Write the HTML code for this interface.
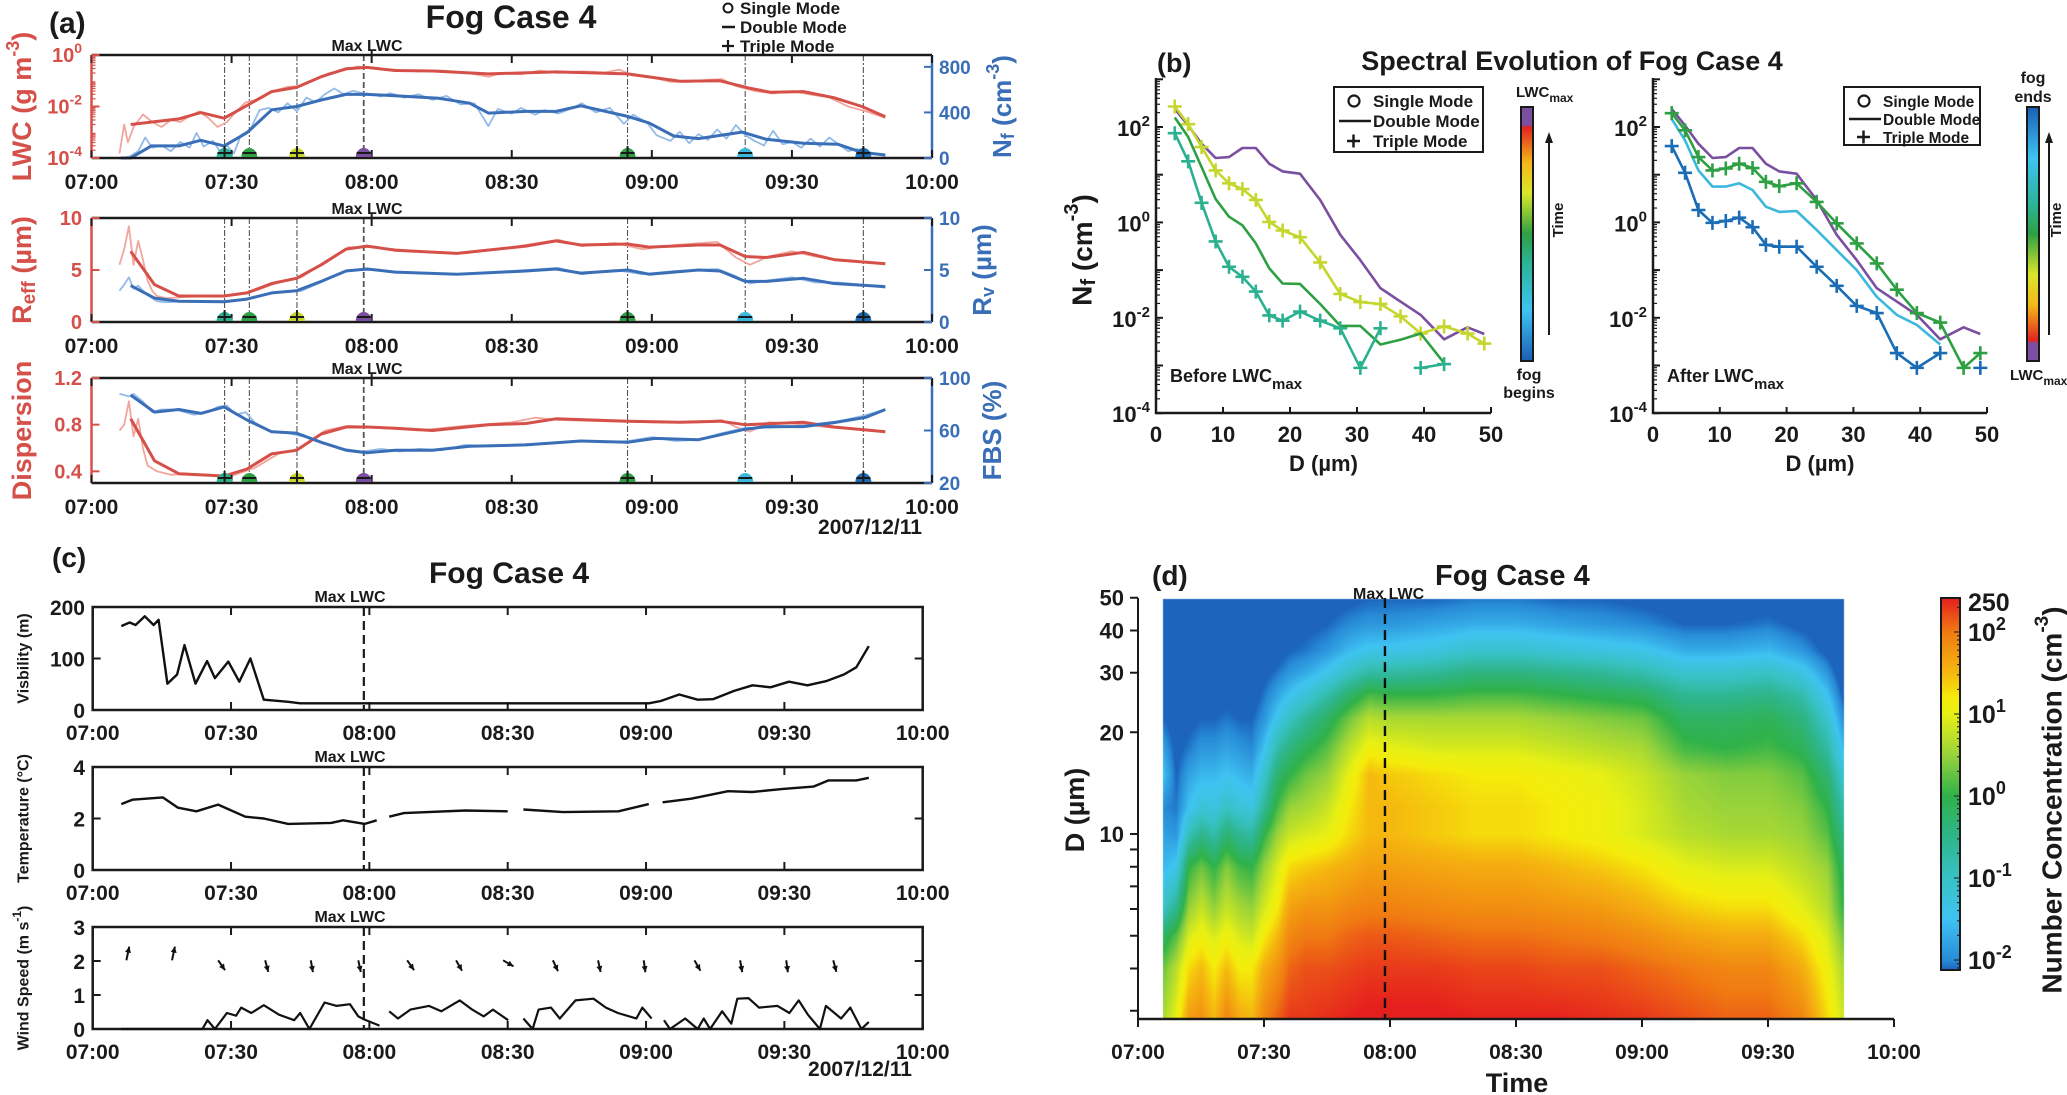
<!DOCTYPE html>
<html><head><meta charset="utf-8"><title>Fog Case 4</title>
<style>
html,body{margin:0;padding:0;background:#fff;}
#wrap{position:relative;width:2067px;height:1095px;overflow:hidden;background:#fff;}
#hm{position:absolute;left:0;top:0;z-index:0;}
#fig{position:absolute;left:0;top:0;z-index:1;}
text{font-family:"Liberation Sans",Arial,sans-serif;font-weight:bold;}
</style></head>
<body>
<div id="wrap">
<canvas id="hm" width="2067" height="1095"></canvas>
<svg id="fig" width="2067" height="1095" viewBox="0 0 2067 1095" xmlns="http://www.w3.org/2000/svg"></svg>
</div>
<script>
// ---------------- DATA ----------------
const aSmoothTimes=[8.4,18.7,23.4,28.4,33.3,38.6,43.9,49.2,54.5,59,65,73,85,99.5,114.8,126,134.6,140.6,145.3,152.5,159,165,170];
const lwcSmooth=[0.002,0.0033,0.0058,0.0035,0.011,0.038,0.055,0.144,0.29,0.33,0.25,0.24,0.185,0.22,0.185,0.096,0.1,0.053,0.036,0.038,0.022,0.01,0.004];
const nfTimes=[6.2,8.4,12.8,18.7,23.4,28.4,33.3,38.6,43.9,49.2,54.5,59,65,74.4,81,85,93,99.5,104.8,114.8,119.4,124.7,130,139.3,144.5,152.5,159.8,165,170];
const nfSmooth=[0,0,106,106,155,106,222,423,452,509,558,558,547,524,481,394,409,409,458,365,308,193,170,227,164,129,121,49,26];
const rTimes=[8.4,13.5,18.7,28.4,33.3,38.6,43.9,49.2,54.5,59,65,78.3,93,99.5,104.8,114.8,119.4,130,134.6,140,144.5,152.5,159,170];
const reffSmooth=[6.8,3.6,2.5,2.5,2.8,3.7,4.2,5.5,7.0,7.3,6.9,6.6,7.3,7.8,7.4,7.5,7.2,7.4,7.4,6.3,6.2,6.7,6.0,5.6];
const rvSmooth=[3.5,2.3,2.0,1.95,2.2,2.8,3.0,3.9,4.9,5.1,4.8,4.6,4.9,5.1,4.7,5.0,4.6,5.0,4.9,3.9,3.9,4.2,3.7,3.4];
const dispTimes=[8.4,13.5,18.7,28.4,33.3,38.6,43.9,49.2,54.5,59,65,73,85,93,99.5,114.8,126,134.6,140,152.5,159,170];
const dispSmooth=[0.85,0.49,0.38,0.36,0.42,0.55,0.58,0.72,0.78,0.78,0.77,0.75,0.80,0.81,0.85,0.83,0.82,0.83,0.80,0.82,0.78,0.74];
const fbsTimes=[8.4,13.5,18.7,23.4,28.4,33.3,38.6,43.9,49.2,54.5,59,65,73,81,93,104.8,114.8,120.7,130,140,144.5,152.5,159,165.8,170];
const fbsSmooth=[87,74,76,73,78,68,59,58,51,45,43,45,45,48,49,52,51,54,53,61,63,63,66,70,76];
const lwcRawTimes=[6,7,7.8,9,11,13,15,17,19,21,23,25,27,29,31,33,36,39,42,45,48,51,54,57,60,65,70,75,80,85,88,92,96,100,105,110,113,116,120,124,128,132,135,138,142,146,150,154,158,162,166,170];
const lwcRaw=[0.00015,0.002,0.0004,0.0016,0.0049,0.0025,0.0016,0.003,0.0025,0.0042,0.0064,0.0036,0.0016,0.0025,0.0064,0.0144,0.0196,0.04,0.058,0.0625,0.116,0.2,0.25,0.36,0.3,0.27,0.23,0.25,0.21,0.144,0.2,0.176,0.25,0.2,0.23,0.21,0.27,0.16,0.137,0.09,0.09,0.109,0.116,0.0625,0.04,0.032,0.04,0.029,0.0225,0.01,0.0064,0.0036];
const nfRawTimes=[6,8,10,11.5,13,15,17,19,21,22.5,24,26,27.5,29,30.5,32,34,36,38,40,42,44,46,48,50,52,54,56,58,60,62,64,67,70,73,76,79,82,85,87,90,92,95,97,100,103,105,108,111,114,116,119,121,124,126,128,130,132,134,136,138,140,142,144,146,148,150,152,154,156,158,160,162,164,166,168,170];
const nfRaw=[0,10,60,180,90,110,60,140,90,220,100,150,60,110,40,200,250,420,440,400,480,410,530,490,560,610,560,590,570,560,540,570,530,560,510,545,470,480,280,430,390,440,380,420,390,440,480,400,440,300,380,310,200,150,230,130,210,160,250,170,290,200,150,110,240,120,140,90,170,100,180,120,60,80,30,40,20];
const rRawTimes=[6,7,8,9,10,11,12,13,14,16,20,25,30,35,40,45,50,55,60,70,80,90,100,105,112,118,125,134,138,141,145,150,155,160,165,170];
const reffRaw=[5.5,7,9.2,5.5,7.8,6,4,3,2.5,2.3,2.4,2.5,2.6,3,3.8,4.3,5.8,7.2,7.2,6.8,6.6,7.2,7.9,7.3,7.6,7.0,7.4,7.7,6.2,5.5,6.3,6.8,6.3,5.9,5.8,5.6];
const rvRaw=[3,3.6,4.3,3.2,3.5,3.0,2.6,2.3,2.0,1.9,2.0,2.0,2.0,2.4,2.9,3.0,4.0,5.0,5.0,4.7,4.6,4.9,5.2,4.6,5.0,4.6,4.9,5.1,4.4,3.7,4.0,4.3,3.8,3.8,3.6,3.3];
const dRawTimes=[6,7,8,9,10,11,12,14,17,20,25,30,35,40,45,50,55,60,70,80,90,95,100,110,120,130,135,138,141,145,150,155,160,165,170];
const dispRaw=[0.75,0.8,1.0,0.7,0.85,0.6,0.45,0.4,0.37,0.38,0.37,0.36,0.43,0.55,0.6,0.75,0.79,0.78,0.75,0.79,0.82,0.86,0.84,0.83,0.82,0.82,0.84,0.78,0.74,0.82,0.81,0.79,0.77,0.76,0.74];
const fRawTimes=[6,8,9,11,13,15,18,20,22,25,27,29,31,33,35,38,42,46,50,54,58,62,66,70,75,80,85,90,95,100,105,110,115,120,125,130,135,140,145,150,155,160,165,170];
const fbsRaw=[88,86,88,82,74,76,76,74,72,74,78,79,72,74,66,60,58,55,50,46,44,46,44,46,45,49,48,49,50,51,52,51,52,55,52,53,58,62,62,63,65,67,71,76];
const evTimes=[28.5,33.8,44.0,58.3,114.8,140.0,165.3];
const evColors=['#2bb18f','#2ea043','#c8d62b','#7b4fa0','#2ea043','#3cb8dc','#1a6db5'];
const evModes=['+','-','+','-','+','-','+'];
const visTimes=[6.2,8,9.3,11.3,13.2,14.3,16.2,18.3,19.9,22.3,24.8,26.5,29.4,31.8,34.2,37.1,42.4,45,120.6,123.2,127.2,131.2,134.5,139.1,143.1,147,151,155,159,162.9,165.6,168.3];
const visVals=[163,170,165,182,165,175,51,69,126,51,95,62,94,55,100,20,16,13,13,17.5,30,20,21,37,48,44,55,48,56,69,83,124];
const tempTimes=[6.2,8.6,15.2,18.5,22.5,27.2,33.1,37.1,42.4,51.7,54.3,59,61.6,62.5,64.3,67.5,80.8,90,91.5,93.4,102,114,120.6,122,123.6,129.8,137.8,143,149.7,156.3,159.6,165.6,168.3];
const tempVals=[2.56,2.73,2.82,2.42,2.28,2.54,2.07,2.0,1.79,1.83,1.93,1.79,1.93,null,2.07,2.21,2.31,2.28,null,2.35,2.25,2.28,2.56,null,2.63,2.77,3.06,3.03,3.15,3.24,3.48,3.48,3.58];
const windTimes=[6.2,23.8,24.9,26.5,29.1,31.1,32.2,34.4,37.1,40.4,43.7,45,47,50.3,52.9,55.8,57.6,58.9,62.2,63,64.3,66.2,68.9,72.9,75.6,79.6,82.3,84.8,86.8,90.1,91.5,93.4,95.4,96.7,99.4,101.3,104.7,108.6,111.3,113.9,117.9,119.2,121.2,122.5,123.9,125.2,128.5,131.2,132.5,133.9,136.5,138.5,139.8,142.2,144.5,148.5,151.1,153.1,155.1,157.7,159,162.3,164.3,166.7,168.3];
const windVals=[0,0,0.26,0,0.47,0.39,0.63,0.47,0.70,0.42,0.26,0.47,0,0.78,0.68,0.73,0.37,0.28,0.10,null,0.52,0.31,0.57,0.68,0.52,0.84,0.57,0.37,0.57,0.26,null,0.31,0,0.57,0.63,0.31,0.84,0.89,0.63,0.47,0.31,0.63,0.31,null,0.26,0,0.31,0,0.31,0,0.52,0.16,0.89,0.91,0.63,0.68,0.47,0.84,0.42,0,0.68,0.31,0.63,0,0.21];
const arrowTimes=[7.3,17.2,27.2,37.4,47.3,57.6,68.2,78.8,89,99.8,109.6,119.5,130.5,140.4,150.4,160.6];
const arrowDirs=[12,12,145,165,170,168,145,150,120,155,168,172,150,170,172,165];
const diamB=[2.8,4.8,6.8,8.9,10.9,12.9,14.9,16.9,18.9,21.5,24.5,27.5,30.5,33.5,36.5,39.5,43,46.5,49];
const logNfMax=[2.38,2.03,1.65,1.35,1.37,1.56,1.56,1.23,1.07,1.02,0.47,-0.26,-0.79,-1.38,-1.66,-1.94,-2.45,-2.2,-2.34];
const logNfBefore3=[2.43,2.06,1.58,1.09,0.82,0.70,0.47,0.01,-0.17,-0.31,-0.84,-1.5,-1.67,-1.71,-1.97,-2.33,-2.18,-2.33,-2.54];
const logNfBefore2=[2.2,1.79,1.16,0.49,0.12,-0.06,-0.44,-0.96,-1.28,-1.29,-1.71,-2.17,-2.17,-2.56,-2.46,-2.33,-2.95,null,null];
const logNfBefore1=[1.87,1.28,0.41,-0.40,-0.93,-1.14,-1.45,-1.95,-2.06,-1.87,-2.06,-2.22,-3.05,-2.22,null,-3.05,-2.97,null,null];
const logNfAfter1=[2.29,1.93,1.37,1.09,1.13,1.23,1.14,0.85,0.76,0.82,0.43,-0.02,-0.44,-0.86,-1.41,-1.90,-2.10,-3.05,-2.74];
const logNfAfter2=[2.17,1.72,1.09,0.75,0.75,0.82,0.68,0.33,0.22,0.24,-0.16,-0.58,-1.0,-1.56,-1.94,-2.15,-2.56,null,null];
const logNfAfter3=[1.6,1.04,0.26,-0.01,0.03,0.10,-0.10,-0.47,-0.51,-0.51,-0.93,-1.33,-1.75,-1.9,-2.74,-3.05,-2.74,null,-3.05];
const hmTimes=[6,9,12,15,18,21,24,27,30,33,36,40,45,50,55,60,70,80,90,100,110,120,130,140,150,158,164,168];
const hmDiam=[2.9,4,5,6,8,10,12,15,18,22,26,30,35,42,50];
const hmLog=[
[0.6,0.3,-0.2,-1.0,-1.6,-1.8,-2.0,-1.5,-1.8,-2.2,-2.5,-2.4,-2.6,-2.7,-2.7],
[1.0,0.7,0.2,-0.5,-1.4,-1.9,-2.1,-2.2,-2.3,-2.4,-2.5,-2.6,-2.6,-2.7,-2.7],
[1.7,1.3,0.9,0.5,0.0,-0.9,-1.5,-1.8,-2.1,-2.3,-2.5,-2.6,-2.6,-2.7,-2.7],
[1.8,1.5,1.1,0.8,0.3,-0.5,-1.2,-1.6,-1.9,-2.2,-2.4,-2.5,-2.6,-2.6,-2.7],
[1.5,1.2,0.9,0.5,0.0,-0.8,-1.3,-1.6,-1.9,-2.2,-2.4,-2.5,-2.6,-2.6,-2.7],
[1.9,1.5,1.1,0.8,0.4,-0.3,-1.0,-1.5,-1.8,-2.1,-2.3,-2.5,-2.6,-2.6,-2.7],
[1.6,1.2,0.9,0.6,0.1,-0.6,-1.2,-1.6,-1.9,-2.2,-2.4,-2.5,-2.6,-2.6,-2.7],
[1.5,1.2,0.8,0.5,0.0,-0.7,-1.3,-1.7,-2.0,-2.2,-2.4,-2.5,-2.6,-2.6,-2.7],
[1.9,1.6,1.2,0.9,0.5,0.0,-0.6,-1.1,-1.5,-1.9,-2.1,-2.3,-2.5,-2.6,-2.7],
[2.1,1.8,1.5,1.2,0.9,0.5,0.1,-0.3,-0.8,-1.4,-1.8,-2.1,-2.4,-2.5,-2.6],
[2.3,2.1,1.9,1.7,1.3,0.8,0.5,0.0,-0.4,-1.0,-1.5,-1.9,-2.2,-2.4,-2.5],
[2.3,2.2,2.0,1.8,1.4,0.9,0.6,0.3,-0.1,-0.6,-1.2,-1.7,-2.1,-2.3,-2.4],
[2.35,2.2,2.0,1.8,1.5,1.0,0.8,0.5,0.2,-0.2,-0.8,-1.4,-1.9,-2.2,-2.4],
[2.4,2.25,2.1,1.9,1.6,1.3,1.2,1.0,0.7,0.3,-0.3,-1.0,-1.6,-2.0,-2.3],
[2.45,2.3,2.15,1.95,1.7,1.5,1.5,1.5,1.1,0.7,0.1,-0.7,-1.4,-1.9,-2.2],
[2.45,2.3,2.15,1.95,1.7,1.5,1.5,1.4,1.0,0.6,0.0,-0.7,-1.4,-1.9,-2.2],
[2.45,2.3,2.1,1.9,1.65,1.4,1.4,1.3,0.9,0.6,0.0,-0.6,-1.3,-1.8,-2.2],
[2.4,2.25,2.05,1.85,1.6,1.3,1.3,1.2,0.9,0.6,0.1,-0.4,-1.1,-1.7,-2.1],
[2.4,2.25,2.05,1.85,1.6,1.3,1.3,1.2,0.9,0.6,0.1,-0.4,-1.1,-1.7,-2.1],
[2.4,2.2,2.0,1.8,1.5,1.2,1.2,1.1,0.8,0.5,0.0,-0.5,-1.2,-1.8,-2.2],
[2.35,2.2,1.95,1.75,1.4,1.1,1.1,1.0,0.7,0.4,-0.1,-0.6,-1.3,-1.9,-2.2],
[2.3,2.1,1.85,1.6,1.25,0.9,0.9,0.8,0.6,0.3,-0.2,-0.8,-1.4,-2.0,-2.3],
[2.2,2.0,1.7,1.4,1.0,0.7,0.6,0.5,0.1,-0.2,-0.6,-1.1,-1.7,-2.2,-2.4],
[2.1,1.9,1.6,1.3,0.9,0.6,0.5,0.4,0.0,-0.2,-0.6,-1.1,-1.7,-2.2,-2.4],
[2.1,1.9,1.6,1.3,0.9,0.6,0.5,0.4,0.1,-0.1,-0.5,-1.0,-1.6,-2.1,-2.4],
[1.9,1.6,1.3,1.0,0.7,0.5,0.4,0.2,-0.1,-0.4,-0.8,-1.3,-1.9,-2.3,-2.5],
[1.3,1.1,0.9,0.7,0.5,0.2,0.0,-0.3,-0.7,-1.1,-1.5,-1.9,-2.3,-2.5,-2.6],
[0.8,0.6,0.3,0.0,-0.2,-0.5,-0.8,-1.2,-1.6,-2.0,-2.3,-2.5,-2.6,-2.7,-2.7]];
const timeTickLabels=['07:00','07:30','08:00','08:30','09:00','09:30','10:00'];

// ---------------- HELPERS ----------------
const NS='http://www.w3.org/2000/svg';
const svg=document.getElementById('fig');
function mk(tag,attrs,parent){const e=document.createElementNS(NS,tag);for(const k in attrs)e.setAttribute(k,attrs[k]);(parent||svg).appendChild(e);return e;}
function T(html,x,y,fs,anchor,color,rot){const e=mk('text',{x:x,y:y,'font-size':fs,'text-anchor':anchor||'middle',fill:color||'#1a1a1a'});if(rot)e.setAttribute('transform','rotate('+rot+' '+x+' '+y+')');e.innerHTML=html;return e;}
function pathD(xs,ys,xf,yf){let d='',pen=false;for(let i=0;i<xs.length;i++){const v=ys[i];if(v===null||v===undefined){pen=false;continue;}d+=(pen?'L':'M')+xf(xs[i]).toFixed(1)+' '+yf(v).toFixed(1);pen=true;}return d;}
const RED='#d6504a',RED_L='#f2a59c',BLUE='#3a6fb8',BLUE_L='#93bbe8';
const sup=(b,e,s)=>b+'<tspan dy="-'+Math.round(s*0.45)+'" font-size="'+Math.round(s*0.7)+'">'+e+'</tspan>';

// ---------------- PANEL (a) ----------------
const xa=m=>91.5+m/180*840.5;
const aPlots=[{t:55,b:158},{t:218,b:322},{t:378,b:483}];
const yLWC=v=>158-(Math.log10(v)+4)/4*103;
const yNf=v=>158-v/904*103;
const yReff=v=>322-v/10*104;
const yRv=v=>322-v/10*104;
const yDisp=v=>483-(v-0.3)/0.9*105;
const yFBS=v=>483-(v-20)/80*105;
let t;
t=T('(a)',49,33,30,'start');

t=T('Fog Case 4',511,28,32);

const legA=mk('g',{});

mk('circle',{cx:728,cy:8,r:4.5,fill:'none',stroke:'#1a1a1a','stroke-width':2},legA);
T('Single Mode',740,14,17,'start',null);
mk('line',{x1:722,x2:735,y1:27,y2:27,stroke:'#1a1a1a','stroke-width':2.5},legA);
T('Double Mode',740,33,17,'start',null);
mk('path',{d:'M722 46h12M728 40v12',stroke:'#1a1a1a','stroke-width':2.2},legA);
T('Triple Mode',740,52,17,'start',null);

function drawAPanel(i,leftTicks,leftFmt,yl,rightTicks,yr,leftLabel,rightLabel,series,minorLog){
  const p=aPlots[i];
  const g=mk('g',{});
  
  
  evTimes.forEach((m,k)=>{const ln=mk('line',{x1:xa(m),x2:xa(m),y1:p.t,y2:p.b,stroke:'#555','stroke-width':k===3?1.8:1.1,'stroke-dasharray':k===3?'6 3':'6 2 2 2'},g);
    });
  mk('line',{x1:xa(60),x2:xa(60),y1:p.t-4,y2:p.t,stroke:'#1a1a1a','stroke-width':2},g);
  series.forEach(s=>{const pth=mk('path',{d:pathD(s.x,s.y,xa,s.f),fill:'none',stroke:s.c,'stroke-width':s.w,'stroke-linejoin':'round'},g);
    });
  mk('line',{x1:xa(0),x2:xa(180),y1:p.t,y2:p.t,stroke:'#1a1a1a','stroke-width':2.5},g);
  mk('line',{x1:xa(0),x2:xa(180),y1:p.b,y2:p.b,stroke:'#1a1a1a','stroke-width':2.5},g);
  mk('line',{x1:xa(0),x2:xa(0),y1:p.t,y2:p.b,stroke:RED,'stroke-width':2.5},g);
  mk('line',{x1:xa(180),x2:xa(180),y1:p.t,y2:p.b,stroke:BLUE,'stroke-width':2.5},g);
  for(let k=0;k<=6;k++){const x=xa(k*30);
    mk('line',{x1:x,x2:x,y1:p.b,y2:p.b-8,stroke:'#1a1a1a','stroke-width':2},g);
    mk('line',{x1:x,x2:x,y1:p.t,y2:p.t+8,stroke:'#1a1a1a','stroke-width':2},g);
    const tl=T(timeTickLabels[k],x,p.b+31,21,'middle','#1a1a1a');
    }
  leftTicks.forEach(v=>{const y=yl(v);mk('line',{x1:xa(0),x2:xa(0)+8,y1:y,y2:y,stroke:RED,'stroke-width':2},g);
    const tl=T(leftFmt(v),82,y+7,20,'end',RED);});
  if(minorLog){for(let e=-4;e<0;e++){for(let m=2;m<10;m++){const y=yl(m*Math.pow(10,e));mk('line',{x1:xa(0),x2:xa(0)+4,y1:y,y2:y,stroke:RED,'stroke-width':1.2},g);}}}
  rightTicks.forEach(v=>{const y=yr(v);mk('line',{x1:xa(180),x2:xa(180)-8,y1:y,y2:y,stroke:BLUE,'stroke-width':2},g);
    const tl=T(String(v),939,y+7,19,'start',BLUE);});
  const ll=T(leftLabel,22,(p.t+p.b)/2,27,'middle',RED,-90);ll.setAttribute('dominant-baseline','central');
  
  const rl=T(rightLabel.s,rightLabel.x,(p.t+p.b)/2,26,'middle',BLUE,-90);rl.setAttribute('dominant-baseline','central');
  
  const ml=T('Max LWC',367,p.t-4,16,'middle','#1a1a1a');
  evTimes.forEach((m,k)=>{const x=xa(m),y=p.b-1;
    const mg=mk('g',{},g);
    
    
    mk('path',{d:'M'+(x-8)+' '+y+'A8 9 0 0 1 '+(x+8)+' '+y+'Z',fill:evColors[k]},mg);
    mk('line',{x1:x-7,x2:x+7,y1:y-4,y2:y-4,stroke:'#1a1a1a','stroke-width':2},mg);
    if(evModes[k]==='+')mk('line',{x1:x,x2:x,y1:y-11,y2:y+2,stroke:'#1a1a1a','stroke-width':2},mg);});
}
drawAPanel(0,[1e-4,1e-2,1],v=>sup('10',String(Math.round(Math.log10(v))),20),yLWC,[0,400,800],yNf,
  'LWC (g m<tspan dy="-9" font-size="18">-3</tspan><tspan dy="9">)</tspan>',{s:'N<tspan dy="6" font-size="18">f</tspan><tspan dy="-6"> (cm</tspan><tspan dy="-9" font-size="18">-3</tspan><tspan dy="9">)</tspan>',x:1002},
  [{x:lwcRawTimes,y:lwcRaw,f:yLWC,c:RED_L,w:1.8,n:'lwc-raw-line'},{x:nfRawTimes,y:nfRaw,f:yNf,c:BLUE_L,w:1.8,n:'nf-raw-line'},
   {x:aSmoothTimes,y:lwcSmooth,f:yLWC,c:RED,w:3,n:'lwc-smooth-line'},{x:nfTimes,y:nfSmooth,f:yNf,c:BLUE,w:3,n:'nf-smooth-line'}],true);
drawAPanel(1,[0,5,10],v=>String(v),yReff,[0,5,10],yRv,'R<tspan dy="7" font-size="19">eff</tspan><tspan dy="-7"> (µm)</tspan>',
  {s:'R<tspan dy="6" font-size="18">v</tspan><tspan dy="-6"> (µm)</tspan>',x:982},
  [{x:rRawTimes,y:reffRaw,f:yReff,c:RED_L,w:1.8,n:'reff-raw-line'},{x:rRawTimes,y:rvRaw,f:yRv,c:BLUE_L,w:1.8,n:'rv-raw-line'},
   {x:rTimes,y:reffSmooth,f:yReff,c:RED,w:3,n:'reff-smooth-line'},{x:rTimes,y:rvSmooth,f:yRv,c:BLUE,w:3,n:'rv-smooth-line'}],false);
drawAPanel(2,[0.4,0.8,1.2],v=>v.toFixed(1),yDisp,[20,60,100],yFBS,'Dispersion',{s:'FBS (%)',x:992},
  [{x:dRawTimes,y:dispRaw,f:yDisp,c:RED_L,w:1.8,n:'dispersion-raw-line'},{x:fRawTimes,y:fbsRaw,f:yFBS,c:BLUE_L,w:1.8,n:'fbs-raw-line'},
   {x:dispTimes,y:dispSmooth,f:yDisp,c:RED,w:3,n:'dispersion-smooth-line'},{x:fbsTimes,y:fbsSmooth,f:yFBS,c:BLUE,w:3,n:'fbs-smooth-line'}],false);
t=T('2007/12/11',870,534,21,'middle');


// ---------------- PANEL (c) ----------------
const xc=m=>92.7+m/180*830;
const cPlots=[{t:607,b:710},{t:767,b:870},{t:927,b:1029}];
const yVis=v=>710-v/200*103;
const yTemp=v=>870-v/4*103;
const yWind=v=>1029-v/3*102;
t=T('(c)',52,567,28,'start');

t=T('Fog Case 4',509,583,30);

function drawCPanel(p,ticks,yf,label,lfs,name){
  const g=mk('g',{});
  
  
  mk('rect',{x:xc(0),y:p.t,width:xc(180)-xc(0),height:p.b-p.t,fill:'none',stroke:'#1a1a1a','stroke-width':2.5},g);
  for(let k=0;k<=6;k++){const x=xc(k*30);
    mk('line',{x1:x,x2:x,y1:p.b,y2:p.b-8,stroke:'#1a1a1a','stroke-width':2},g);
    mk('line',{x1:x,x2:x,y1:p.t,y2:p.t+8,stroke:'#1a1a1a','stroke-width':2},g);
    const tl=T(timeTickLabels[k],x,p.b+30,21);}
  ticks.forEach(v=>{const y=yf(v);
    mk('line',{x1:xc(0),x2:xc(0)+8,y1:y,y2:y,stroke:'#1a1a1a','stroke-width':2},g);
    mk('line',{x1:xc(180),x2:xc(180)-8,y1:y,y2:y,stroke:'#1a1a1a','stroke-width':2},g);
    const tl=T(String(v),85,y+8,21,'end');});
  const dl=mk('line',{x1:xc(58.8),x2:xc(58.8),y1:p.t,y2:p.b,stroke:'#1a1a1a','stroke-width':2.2,'stroke-dasharray':'9 5'},g);
  
  const ml=T('Max LWC',350,p.t-5,16);
  const yl=T(label,24,(p.t+p.b)/2,lfs,'middle','#1a1a1a',-90);yl.setAttribute('dominant-baseline','central');
  
  return g;
}
drawCPanel(cPlots[0],[0,100,200],yVis,'Visbility (m)',16,'visibility-subplot');
drawCPanel(cPlots[1],[0,2,4],yTemp,'Temperature (°C)',16,'temperature-subplot');
drawCPanel(cPlots[2],[0,1,2,3],yWind,'Wind Speed (m s<tspan dy="-7" font-size="12">-1</tspan><tspan dy="7">)</tspan>',16,'wind-subplot');
let ln;
ln=mk('path',{d:pathD(visTimes,visVals,xc,yVis),fill:'none',stroke:'#111','stroke-width':2.4,'stroke-linejoin':'round'});

ln=mk('path',{d:pathD(tempTimes,tempVals,xc,yTemp),fill:'none',stroke:'#111','stroke-width':2.4,'stroke-linejoin':'round'});

ln=mk('path',{d:pathD(windTimes,windVals,xc,yWind),fill:'none',stroke:'#111','stroke-width':2.2,'stroke-linejoin':'round'});

arrowTimes.forEach((m,k)=>{const x0=xc(m),y0=yWind(2.02);const a=arrowDirs[k]*Math.PI/180;const L=k<2?14:12;
  const x1=x0+Math.sin(a)*L,y1=y0-Math.cos(a)*L;
  const ag=mk('g',{});
  
  
  mk('line',{x1:x0,y1:y0,x2:x1,y2:y1,stroke:'#111','stroke-width':2},ag);
  const hx=Math.sin(a),hy=-Math.cos(a);
  const p1=[x1-hx*6+hy*3,y1-hy*6-hx*3],p2=[x1-hx*6-hy*3,y1-hy*6+hx*3];
  mk('path',{d:'M'+x1+' '+y1+'L'+p1[0]+' '+p1[1]+'L'+p2[0]+' '+p2[1]+'Z',fill:'#111'},ag);});
t=T('2007/12/11',860,1076,21);


// ---------------- PANEL (b) ----------------
const yb=l=>127-(l-2)*47.7;
const xbL=d=>1156+d*6.7, xbR=d=>1653+d*6.68;
t=T('(b)',1157,72,27,'start');

t=T('Spectral Evolution of Fog Case 4',1572,70,27);

function drawBPanel(xf,x0,series,name,noteX,note){
  const g=mk('g',{});
  
  
  mk('path',{d:'M'+x0+' 78V413H'+xf(50),fill:'none',stroke:'#1a1a1a','stroke-width':2.5},g);
  for(let d=0;d<=50;d+=10){const x=xf(d);mk('line',{x1:x,x2:x,y1:413,y2:407,stroke:'#1a1a1a','stroke-width':2},g);
    const tl=T(String(d),x,442,22);}
  for(let e=-4;e<=2;e++){for(let m=1;m<10;m++){const y=yb(e+Math.log10(m));if(y<78)continue;
    mk('line',{x1:x0,x2:x0+(m===1?7:4),y1:y,y2:y,stroke:'#1a1a1a','stroke-width':m===1?2:1.2},g);}}
  mk('line',{x1:x0,x2:x0+7,y1:yb(3),y2:yb(3),stroke:'#1a1a1a','stroke-width':2},g);
  [-4,-2,0,2].forEach(e=>{const tl=T(sup('10',String(e),22),x0-6,yb(e)+9,22,'end');});
  series.forEach(s=>{const pth=mk('path',{d:pathD(diamB,s.y,xf,yb),fill:'none',stroke:s.c,'stroke-width':2.6,'stroke-linejoin':'round'},g);
    
    if(s.plus){diamB.forEach((d,i)=>{const v=s.y[i];if(v===null)return;const x=xf(d),y=yb(v);
      const pm=mk('path',{d:'M'+(x-7)+' '+y+'h14M'+x+' '+(y-7)+'v14',stroke:s.c,'stroke-width':2.6},g);
      });}});
  const nt=T(note,noteX,382,18,'start');
  const xl=T('D (µm)',xf(25),471,22);
  return g;
}
drawBPanel(xbL,1156,[{y:logNfMax,c:'#7b4fa0',n:'lwc-max-spectrum'},{y:logNfBefore3,c:'#c5d62e',plus:true,n:'spectrum-0744'},
  {y:logNfBefore2,c:'#2ea043',n:'spectrum-0734'},{y:logNfBefore1,c:'#2bb18f',plus:true,n:'spectrum-0728'}],'spectra-before-max',1170,
  'Before LWC<tspan dy="7" font-size="15">max</tspan>');
drawBPanel(xbR,1653,[{y:logNfMax,c:'#7b4fa0',n:'lwc-max-spectrum'},{y:logNfAfter2,c:'#3cb8dc',n:'spectrum-0920'},
  {y:logNfAfter1,c:'#2ea043',plus:true,n:'spectrum-0855'},{y:logNfAfter3,c:'#1a6db5',plus:true,n:'spectrum-0945'}],'spectra-after-max',1667,
  'After LWC<tspan dy="7" font-size="15">max</tspan>');
t=T('N<tspan dy="7" font-size="20">f</tspan><tspan dy="-7"> (cm</tspan><tspan dy="-10" font-size="20">-3</tspan><tspan dy="10">)</tspan>',1082,250,28,'middle','#1a1a1a',-90);
t.setAttribute('dominant-baseline','central');

function legendB(x,y,w,h,tx,fs,step,name){
  const g=mk('g',{});
  
  
  mk('rect',{x:x,y:y,width:w,height:h,fill:'#fff',stroke:'#1a1a1a','stroke-width':2},g);
  mk('circle',{cx:tx-19,cy:y+14,r:5.5,fill:'none',stroke:'#1a1a1a','stroke-width':2.2},g);
  mk('line',{x1:tx-34,x2:tx-2,y1:y+14+step,y2:y+14+step,stroke:'#1a1a1a','stroke-width':2.5},g);
  mk('path',{d:'M'+(tx-26)+' '+(y+14+2*step)+'h13M'+(tx-19.5)+' '+(y+7.5+2*step)+'v13',stroke:'#1a1a1a','stroke-width':2.5},g);
  ['Single Mode','Double Mode','Triple Mode'].forEach((s,i)=>{const tl=T(s,tx,y+20+i*step,fs,'start');});
}
legendB(1334,87,149,65,1373,17,20,'panel-b-legend-left');
legendB(1844,87,136,58,1883,15.5,18,'panel-b-legend-right');
const defs=mk('defs',{});
const g1=mk('linearGradient',{id:'cbL',x1:0,y1:1,x2:0,y2:0},defs);
[['0','#1a5fb4'],['0.2','#3fc3f2'],['0.38','#2bb59a'],['0.5','#2ea043'],['0.66','#d9e62a'],['0.78','#f5b81a'],['0.92','#e3231f'],['0.93','#7b4fa0'],['1','#7b4fa0']].forEach(s=>mk('stop',{offset:s[0],'stop-color':s[1]},g1));
const g2=mk('linearGradient',{id:'cbR',x1:0,y1:0,x2:0,y2:1},defs);
[['0','#1a5fb4'],['0.2','#3fc3f2'],['0.38','#2bb59a'],['0.5','#2ea043'],['0.66','#d9e62a'],['0.78','#f5b81a'],['0.92','#e3231f'],['0.93','#7b4fa0'],['1','#7b4fa0']].forEach(s=>mk('stop',{offset:s[0],'stop-color':s[1]},g2));
let cb=mk('rect',{x:1521,y:107,width:12,height:254,fill:'url(#cbL)',stroke:'#1a1a1a','stroke-width':2});

cb=mk('rect',{x:2027,y:107,width:12,height:254,fill:'url(#cbR)',stroke:'#1a1a1a','stroke-width':2});

[[1549],[2049]].forEach(a=>{const ag=mk('g',{});
  mk('line',{x1:a[0],x2:a[0],y1:335,y2:138,stroke:'#1a1a1a','stroke-width':2},ag);
  mk('path',{d:'M'+(a[0]-4)+' 143L'+a[0]+' 132L'+(a[0]+4)+' 143Z',fill:'#1a1a1a'},ag);});
t=T('LWC<tspan dy="5" font-size="12">max</tspan>',1516,97,15,'start');
t=T('Time',1563,220,15,'middle','#1a1a1a',-90);
t=T('fog',1529,380,16);
t=T('begins',1529,398,16);
t=T('fog',2033,83,16);
t=T('ends',2033,102,16);
t=T('LWC<tspan dy="5" font-size="12">max</tspan>',2010,380,15,'start');
t=T('Time',2061,220,15,'middle','#1a1a1a',-90);

// ---------------- PANEL (d) ----------------
const xd=m=>1138+m*4.2;
const yd=D=>834-338*Math.log10(D/10);
const cStops=[[-2.2,[28,100,188]],[-2.0,[40,140,215]],[-1.5,[63,195,242]],[-1.0,[56,194,197]],[-0.5,[46,181,138]],[0.0,[47,178,74]],[0.5,[153,211,58]],[1.0,[232,240,20]],[1.2,[245,236,10]],[1.5,[245,184,15]],[2.0,[240,122,18]],[2.43,[229,30,30]]];
function cmap(l){if(l<=cStops[0][0])return cStops[0][1];for(let i=1;i<cStops.length;i++){if(l<=cStops[i][0]){const a=cStops[i-1],b=cStops[i],f=(l-a[0])/(b[0]-a[0]);return a[1].map((c,k)=>Math.round(c+(b[1][k]-c)*f));}}return cStops[cStops.length-1][1];}
function interp(arr,v){if(v<=arr[0])return[0,0];for(let i=1;i<arr.length;i++){if(v<=arr[i])return[i-1,(v-arr[i-1])/(arr[i]-arr[i-1])];}return[arr.length-2,1];}
(function(){
  const cv=document.getElementById('hm'),ctx=cv.getContext('2d');
  const x0=Math.round(xd(hmTimes[0])),x1=Math.round(xd(hmTimes[hmTimes.length-1]));
  const y0=Math.round(yd(49.5)),y1=1019;
  const img=ctx.createImageData(x1-x0,y1-y0);
  const logD=hmDiam.map(d=>Math.log10(d));
  for(let py=0;py<y1-y0;py++){
    const D=10*Math.pow(10,(834-(y0+py))/338);const [j,fj]=interp(logD,Math.log10(D));
    for(let px=0;px<x1-x0;px++){
      const m=(x0+px-1138)/4.2;const [i,fi]=interp(hmTimes,m);
      const v=(1-fi)*((1-fj)*hmLog[i][j]+fj*hmLog[i][j+1])+fi*((1-fj)*hmLog[i+1][j]+fj*hmLog[i+1][j+1]);
      const c=cmap(v);const o=4*(py*(x1-x0)+px);
      img.data[o]=c[0];img.data[o+1]=c[1];img.data[o+2]=c[2];img.data[o+3]=255;}}
  ctx.putImageData(img,x0,y0);
})();
const dg=mk('g',{});


mk('line',{x1:1138,x2:1138,y1:598,y2:1019,stroke:'#1a1a1a','stroke-width':2},dg);
mk('line',{x1:1138,x2:xd(180),y1:1019,y2:1019,stroke:'#1a1a1a','stroke-width':2.5},dg);
for(let k=0;k<=6;k++){const x=xd(k*30);mk('line',{x1:x,x2:x,y1:1019,y2:1027,stroke:'#1a1a1a','stroke-width':2},dg);
  t=T(timeTickLabels[k],x,1059,21);}
[3,4,5,6,7,8,9,10,20,30,40,50].forEach(D=>{const y=yd(D);mk('line',{x1:1138,x2:1130,y1:y,y2:y,stroke:'#1a1a1a','stroke-width':2},dg);
  if([10,20,30,40,50].includes(D)){t=T(String(D),1124,y+8,22,'end');}});
let dl=mk('line',{x1:xd(58.8),x2:xd(58.8),y1:598,y2:1019,stroke:'#111','stroke-width':2.4,'stroke-dasharray':'10 6'});

t=T('Max LWC',1353,599,16,'start');
t=T('(d)',1152,585,28,'start');
t=T('Fog Case 4',1435,585,29,'start');
t=T('Time',1517,1092,27);
t=T('D (µm)',1075,810,27,'middle','#1a1a1a',-90);t.setAttribute('dominant-baseline','central');
const ycb=l=>960-(l+2)*82;
const g3=mk('linearGradient',{id:'cbD',x1:0,y1:1,x2:0,y2:0},defs);
cStops.forEach(s=>{const off=(970-ycb(s[0]))/(970-598);mk('stop',{offset:Math.max(0,Math.min(1,off)).toFixed(3),'stop-color':'rgb('+s[1].join(',')+')'},g3);});
cb=mk('rect',{x:1941,y:598,width:19,height:372,fill:'url(#cbD)',stroke:'#1a1a1a','stroke-width':2});

for(let e=-3;e<=2;e++){for(let m=1;m<10;m++){const y=ycb(e+Math.log10(m));if(y<599||y>969)continue;
  mk('line',{x1:1960,x2:m===1?1954:1957,y1:y,y2:y,stroke:'#1a1a1a','stroke-width':1});}}
[-2,-1,0,1,2].forEach(e=>{t=T(sup('10',String(e),25),1968,ycb(e)+9,25,'start');});
t=T('250',1968,611,25,'start');
t=T('Number Concentration (cm<tspan dy="-10" font-size="19">-3</tspan><tspan dy="10">)</tspan>',2052,800,28,'middle','#1a1a1a',-90);
t.setAttribute('dominant-baseline','central');
</script>
</body></html>
